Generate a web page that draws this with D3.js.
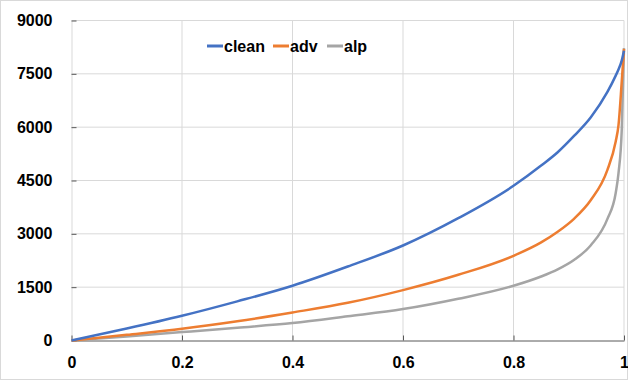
<!DOCTYPE html>
<html>
<head>
<meta charset="utf-8">
<script src="https://cdn.jsdelivr.net/npm/d3@7"></script>
<style>
  body { margin: 0; background: #fff; }
  svg text { font-family: "Liberation Sans", Arial, sans-serif; font-weight: bold; font-size: 16px; fill: #000; }
</style>
</head>
<body>
<div id="chart"></div>
<script>
var xValues = [0, 0.1, 0.2, 0.3, 0.4, 0.5, 0.6, 0.7, 0.8, 0.85, 0.88, 0.91, 0.94, 0.97, 0.985, 0.99, 0.996, 1];
var clean = [0, 335, 695, 1100, 1540, 2080, 2672, 3440, 4350, 4920, 5295, 5760, 6280, 6990, 7450, 7620, 7880, 8150];
var adv   = [0, 160, 329, 540, 788, 1060, 1417, 1848, 2382, 2760, 3060, 3430, 3950, 4800, 5600, 6050, 7300, 8200];
var alp   = [0, 115, 236, 360, 490, 680, 883, 1173, 1539, 1800, 2000, 2270, 2680, 3420, 4150, 4700, 5950, 8224];

var seriesNames = ["clean", "adv", "alp"];
var seriesColors = ["#4472C4", "#ED7D31", "#A5A5A5"];
var xTicks = [0, 0.2, 0.4, 0.6, 0.8, 1];
var yTicks = [0, 1500, 3000, 4500, 6000, 7500, 9000];

var W = 628, H = 380;
var margin = {top: 20.5, right: 4, bottom: 39.5, left: 71.5},
    width = W - margin.left - margin.right,
    height = H - margin.top - margin.bottom;

var svg = d3.select("#chart").append("svg")
    .attr("width", W)
    .attr("height", H);

svg.append("rect")
    .attr("x", 0.5).attr("y", 0.5)
    .attr("width", W - 1).attr("height", H - 1)
    .attr("fill", "#fff").attr("stroke", "#d9d9d9");

var g = svg.append("g")
    .attr("transform", "translate(" + margin.left + "," + margin.top + ")");

var xScale = d3.scaleLinear().domain([0, 1]).range([0, width]);
var yScale = d3.scaleLinear().domain([0, 9000]).range([height, 0]);

// gridlines
g.selectAll(".hgrid").data(yTicks.slice(1)).enter().append("line")
    .attr("x1", 0).attr("x2", width)
    .attr("y1", function(d) { return yScale(d); })
    .attr("y2", function(d) { return yScale(d); })
    .attr("stroke", "#d9d9d9").attr("stroke-width", 1);
g.selectAll(".vgrid").data(xTicks.slice(1)).enter().append("line")
    .attr("x1", function(d) { return xScale(d); })
    .attr("x2", function(d) { return xScale(d); })
    .attr("y1", 0).attr("y2", height)
    .attr("stroke", "#d9d9d9").attr("stroke-width", 1);

// y axis
var yAxis = g.append("g")
    .call(d3.axisLeft(yScale).tickValues(yTicks).tickSize(0).tickPadding(19)
      .tickFormat(d3.format("d")));
yAxis.select(".domain").attr("stroke", "#d9d9d9");
yAxis.selectAll(".tick").append("line")
    .attr("x1", 0).attr("x2", 5).attr("stroke", "#595959");

// x axis
var xAxis = g.append("g")
    .attr("transform", "translate(0," + height + ")")
    .call(d3.axisBottom(xScale).tickValues(xTicks).tickSize(0).tickPadding(16)
      .tickFormat(function(d) { return d; }));
xAxis.select(".domain").attr("stroke", "#595959");
xAxis.selectAll(".tick").append("line")
    .attr("y1", 0).attr("y2", -5).attr("stroke", "#595959");

// lines
var allSeries = [clean, adv, alp];
var line = d3.line()
    .x(function(d) { return xScale(d[0]); })
    .y(function(d) { return yScale(d[1]); })
    .curve(d3.curveMonotoneX);

allSeries.slice().reverse().forEach(function(vals, k) {
  var i = allSeries.length - 1 - k;
  g.append("path")
    .datum(xValues.map(function(x, j) { return [x, vals[j]]; }))
    .attr("fill", "none")
    .attr("stroke", seriesColors[i])
    .attr("stroke-width", 2.5)
    .attr("d", line);
});

// legend
var legendX = [207, 273, 327];
var legend = svg.append("g");
seriesNames.forEach(function(name, i) {
  legend.append("line")
    .attr("x1", legendX[i]).attr("x2", legendX[i] + 16)
    .attr("y1", 46).attr("y2", 46)
    .attr("stroke", seriesColors[i]).attr("stroke-width", 3);
  legend.append("text")
    .attr("x", legendX[i] + 17).attr("y", 52)
    .text(name);
});
</script>
</body>
</html>
